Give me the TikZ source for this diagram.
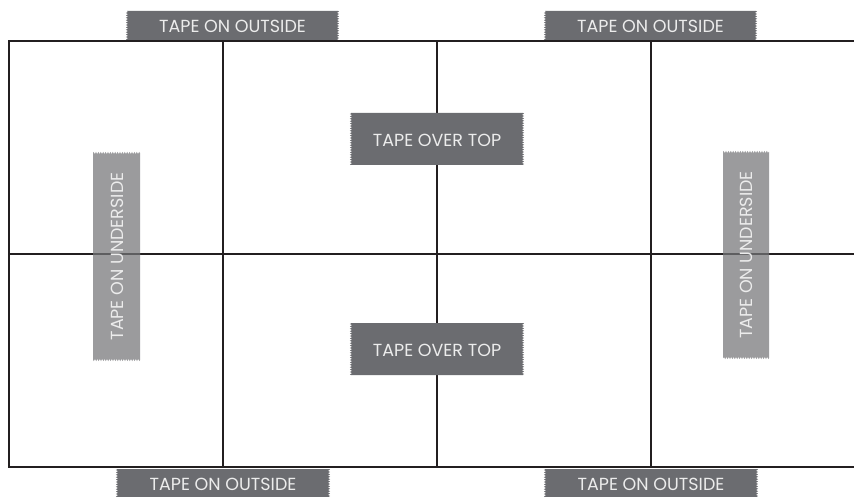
\documentclass[tikz,border=0pt]{standalone}
\usepackage{fontspec}
\setmainfont{Poppins}
\usetikzlibrary{decorations.pathmorphing}
\definecolor{linec}{HTML}{231F20}
\definecolor{darktape}{HTML}{6B6C70}
\definecolor{lighttape}{HTML}{9B9B9D}
\definecolor{tapetxt}{HTML}{ECECEC}
\definecolor{seenline}{HTML}{5E5E60}
\tikzset{
  frame/.style={line width=2pt, draw=linec},
  rag/.style={decoration={zigzag, segment length=2.4pt, amplitude=1.1pt}},
  tapetext/.style={text=tapetxt, font=\fontsize{17.5}{20}\selectfont, inner sep=0pt},
}
\newcommand{\htape}[5]{\fill[#5, rag] (#1,#2) -- (#3,#2) decorate{-- (#3,#4)} -- (#1,#4) decorate{-- (#1,#2)} -- cycle;}
\newcommand{\vtape}[5]{\fill[#5, rag] (#1,#2) decorate{-- (#3,#2)} -- (#3,#4) decorate{-- (#1,#4)} -- cycle;}
\begin{document}
\begin{tikzpicture}[x=1pt,y=-1pt]
\useasboundingbox (0,0) rectangle (854,497);
% frame grid
\coordinate (tr) at (854,41);
\coordinate (tl) at (9,41);
\coordinate (bl) at (9,467);
\coordinate (br) at (854,467);
\draw[frame] (tr) -- (tl) -- (bl) -- (br);
\coordinate (ml) at (9,254);
\coordinate (mr) at (854,254);
\draw[frame] (ml) -- (mr);
\foreach \x/\n in {222.5/a,437/b,651/c}{
  \coordinate (v\n t) at (\x,41);
  \coordinate (v\n b) at (\x,467);
  \draw[frame] (v\n t) -- (v\n b);
}
% tapes on outside
\htape{127}{11}{338}{40}{darktape}
\node[tapetext] (to1) at (232.5,26) {TAPE ON OUTSIDE};
\htape{545}{11}{756}{40}{darktape}
\node[tapetext] (to2) at (650.5,26) {TAPE ON OUTSIDE};
\htape{117}{469}{329}{497}{darktape}
\node[tapetext] (to3) at (223,484) {TAPE ON OUTSIDE};
\htape{545}{469}{757}{497}{darktape}
\node[tapetext] (to4) at (651,484) {TAPE ON OUTSIDE};
% tapes over top
\htape{351}{113}{523}{165}{darktape}
\node[tapetext] (ot1) at (437,140) {TAPE OVER TOP};
\htape{351}{323}{523}{375}{darktape}
\node[tapetext] (ot2) at (437,350) {TAPE OVER TOP};
% tapes on underside
\vtape{93}{153}{140}{360}{lighttape}
\coordinate (s1a) at (93,254);
\coordinate (s1b) at (140,254);
\draw[line width=2pt, seenline] (s1a) -- (s1b);
\node[tapetext, rotate=90] (un1) at (117,256.5) {TAPE ON UNDERSIDE};
\vtape{723}{152}{769}{358}{lighttape}
\coordinate (s2a) at (723,254);
\coordinate (s2b) at (769,254);
\draw[line width=2pt, seenline] (s2a) -- (s2b);
\node[tapetext, rotate=90] (un2) at (746,255) {TAPE ON UNDERSIDE};
\end{tikzpicture}
\end{document}
